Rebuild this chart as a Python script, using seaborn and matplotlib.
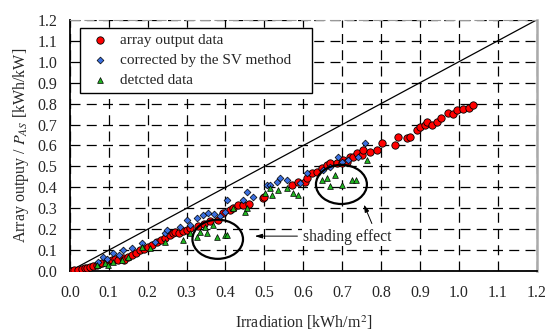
import matplotlib
matplotlib.use("Agg")
import matplotlib.pyplot as plt
from matplotlib.patches import Ellipse
from matplotlib.legend_handler import HandlerLine2D
from matplotlib.lines import Line2D
import pandas as pd
import seaborn as sns

# array output data (red)
red_x = [0.000, 0.005, 0.010, 0.020, 0.030, 0.039, 0.045, 0.051, 0.060, 0.069,
         0.075, 0.082, 0.095, 0.108, 0.115, 0.123, 0.136, 0.140, 0.150, 0.159,
         0.170, 0.180, 0.190, 0.200, 0.210, 0.224, 0.235, 0.244, 0.257, 0.265,
         0.270, 0.280, 0.290, 0.300, 0.310, 0.330, 0.345, 0.360, 0.380, 0.393,
         0.411, 0.420, 0.432, 0.445, 0.460, 0.496, 0.500, 0.571, 0.586, 0.604,
         0.610, 0.622, 0.635, 0.648, 0.660, 0.668, 0.686, 0.699, 0.702, 0.712,
         0.720, 0.728, 0.738, 0.750, 0.753, 0.771, 0.789, 0.802, 0.835, 0.843,
         0.866, 0.874, 0.892, 0.900, 0.913, 0.918, 0.930, 0.943, 0.955, 0.972,
         0.985, 0.995, 1.010, 1.025, 1.036]
red_y = [0.000, 0.002, 0.003, 0.005, 0.010, 0.014, 0.016, 0.019, 0.024, 0.029,
         0.033, 0.038, 0.045, 0.053, 0.058, 0.053, 0.062, 0.055, 0.068, 0.077,
         0.088, 0.100, 0.105, 0.115, 0.125, 0.139, 0.148, 0.158, 0.172, 0.182,
         0.187, 0.180, 0.192, 0.198, 0.205, 0.215, 0.225, 0.240, 0.245, 0.278,
         0.292, 0.300, 0.316, 0.318, 0.322, 0.350, 0.352, 0.412, 0.426, 0.426,
         0.445, 0.469, 0.475, 0.493, 0.505, 0.517, 0.517, 0.517, 0.532, 0.522,
         0.546, 0.546, 0.565, 0.556, 0.580, 0.570, 0.580, 0.613, 0.604, 0.642,
         0.637, 0.642, 0.676, 0.690, 0.700, 0.714, 0.700, 0.714, 0.730, 0.757,
         0.750, 0.770, 0.775, 0.780, 0.795]

# corrected by the SV method (blue)
blue_x = [0.072, 0.085, 0.095, 0.111, 0.125, 0.136, 0.160, 0.185, 0.219, 0.244,
          0.249, 0.283, 0.300, 0.310, 0.326, 0.342, 0.355, 0.370, 0.385, 0.398,
          0.403, 0.445, 0.455, 0.470, 0.506, 0.514, 0.532, 0.540, 0.558, 0.591,
          0.609, 0.650, 0.668, 0.689, 0.700, 0.715, 0.740, 0.758]
blue_y = [0.043, 0.067, 0.060, 0.086, 0.075, 0.100, 0.110, 0.134, 0.139, 0.182,
          0.196, 0.211, 0.244, 0.220, 0.254, 0.268, 0.278, 0.272, 0.265, 0.283,
          0.340, 0.340, 0.379, 0.355, 0.412, 0.412, 0.426, 0.445, 0.436, 0.421,
          0.469, 0.484, 0.498, 0.546, 0.520, 0.530, 0.545, 0.613]

# detected data (green)
green_x = [0.069, 0.090, 0.098, 0.110, 0.134, 0.150, 0.185, 0.206, 0.244, 0.290,
           0.310, 0.326, 0.334, 0.347, 0.352, 0.368, 0.378, 0.398, 0.403, 0.420,
           0.450, 0.455, 0.501, 0.514, 0.519, 0.535, 0.558, 0.573, 0.586, 0.648,
           0.661, 0.668, 0.681, 0.699, 0.725, 0.735, 0.763]
green_y = [0.029, 0.038, 0.029, 0.045, 0.053, 0.065, 0.115, 0.110, 0.139, 0.150,
           0.180, 0.163, 0.187, 0.211, 0.182, 0.220, 0.163, 0.172, 0.172, 0.300,
           0.283, 0.302, 0.374, 0.398, 0.364, 0.388, 0.398, 0.374, 0.364, 0.436,
           0.445, 0.407, 0.460, 0.412, 0.436, 0.436, 0.532]

ticks = [round(0.1 * i, 1) for i in range(13)]

sns.set_style("white")
plt.rcParams['font.family'] = ['Liberation Serif', 'DejaVu Serif']
plt.rcParams['mathtext.fontset'] = 'stix'
plt.rcParams['font.size'] = 11

fig = plt.figure(figsize=(5.46, 3.31), dpi=100)
ax = fig.add_axes([0.128, 0.181, 0.855, 0.759])

ax.plot([0, 1.2], [0, 1.2], color='black', lw=0.9, zorder=2)

red = pd.DataFrame({'x': red_x, 'y': red_y})
blue = pd.DataFrame({'x': blue_x, 'y': blue_y})
green = pd.DataFrame({'x': green_x, 'y': green_y})

sns.scatterplot(data=red, x='x', y='y', ax=ax, color='#ff0000', marker='o', s=28,
                edgecolor='black', linewidth=0.6, zorder=3, label='array output data')
sns.scatterplot(data=blue, x='x', y='y', ax=ax, color='#3a6fe0', marker='D', s=12,
                edgecolor='black', linewidth=0.5, zorder=4, label='corrected by the SV method')
sns.scatterplot(data=green, x='x', y='y', ax=ax, color='#1fb31f', marker='^', s=17,
                edgecolor='black', linewidth=0.5, zorder=5, label='detcted data')

ax.add_patch(Ellipse((0.38, 0.152), 0.13, 0.187, fill=False, lw=1.6, color='black', zorder=6))
ax.add_patch(Ellipse((0.698, 0.414), 0.131, 0.187, fill=False, lw=1.6, color='black', zorder=6))

ax.text(0.598, 0.163, 'shading effect', ha='left', va='center', fontsize=11.3,
        bbox=dict(facecolor='white', edgecolor='none', pad=0.5), zorder=7)
ax.annotate('', xy=(0.468, 0.167), xytext=(0.592, 0.167),
            arrowprops=dict(arrowstyle='-|>,head_length=0.4,head_width=0.12', lw=0.7, color='black'),
            zorder=7)
ax.annotate('', xy=(0.753, 0.33), xytext=(0.779, 0.215),
            arrowprops=dict(arrowstyle='-|>,head_length=0.4,head_width=0.12', lw=0.7, color='black'),
            zorder=7)

ax.set_xlim(0, 1.2)
ax.set_ylim(0, 1.2)
ax.set_xticks(ticks)
ax.set_yticks(ticks)
ax.set_xticklabels([f'{t:.1f}' for t in ticks])
ax.set_yticklabels([f'{t:.1f}' for t in ticks])
ax.tick_params(axis='x', direction='in', length=4, pad=10, labelsize=11.5)
ax.tick_params(axis='y', direction='in', length=4, pad=9, labelsize=11.5)
ax.grid(True, color='black', linestyle=(0, (8, 5)), lw=0.9)
ax.set_axisbelow(True)

for side in ['left', 'bottom']:
    ax.spines[side].set_color('black')
    ax.spines[side].set_linewidth(1.3)
ax.spines['top'].set_color('#999999')
ax.spines['top'].set_linestyle((0, (8, 5)))
ax.spines['right'].set_color('#aaaaaa')
ax.spines['right'].set_linewidth(1.8)

ax.set_xlabel(r'Irradiation [kWh/m$^2$]', fontsize=11.5, labelpad=9)
ax.set_ylabel(r'Array outpuy / $P_{AS}$ [kWh/kW]', fontsize=11.5, labelpad=5)

leg = ax.legend(loc='upper left', bbox_to_anchor=(0.021, 0.968, 0.497, 0.0), mode='expand',
                borderaxespad=0, fancybox=False, framealpha=1, edgecolor='black',
                handlelength=2.0, handletextpad=0.3, labelspacing=0.42, borderpad=0.35,
                fontsize=11, handler_map={Line2D: HandlerLine2D(numpoints=1, xpad=1.2)})
leg.get_frame().set_linewidth(1.0)
leg.set_zorder(8)

fig.savefig('out.png', dpi=100)
